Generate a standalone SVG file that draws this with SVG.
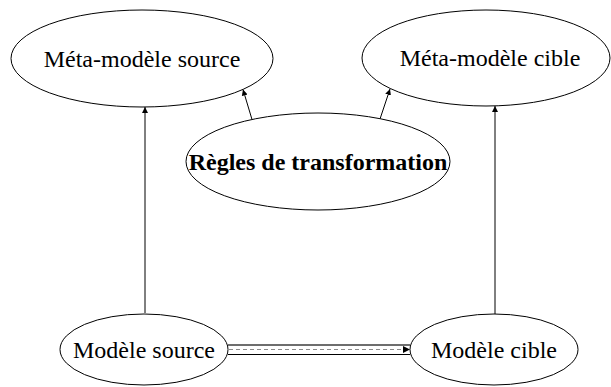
<svg xmlns="http://www.w3.org/2000/svg" width="611" height="387" viewBox="0 0 611 387">
  <style>
    .node ellipse { fill: #fff; stroke: #000; stroke-width: 1; }
    .node text { font-family: "Liberation Serif", "Times New Roman", serif; font-size: 24px; fill: #000; text-anchor: middle; }
    .node text.bold { font-weight: bold; }
    .edge { fill: none; stroke: #000; stroke-width: 1; }
    .rail-top { fill: none; stroke: #6e6e6e; stroke-width: 2; }
    .rail-bottom { fill: none; stroke: #000; stroke-width: 1; }
    .rail-dash { fill: none; stroke: #8a8a8a; stroke-width: 1; stroke-dasharray: 4 3; }
  </style>
  <defs>
    <marker id="arrow" viewBox="0 0 10 10" refX="10" refY="5" markerWidth="6" markerHeight="7" markerUnits="userSpaceOnUse" orient="auto">
      <path d="M0,0 L10,5 L0,10 Z" fill="#000"/>
    </marker>
    <marker id="arrow-small" viewBox="0 0 10 10" refX="10" refY="5" markerWidth="8" markerHeight="7" markerUnits="userSpaceOnUse" orient="auto">
      <path d="M0,0 L10,5 L0,10 Z" fill="#000"/>
    </marker>
  </defs>
  <rect width="611" height="387" fill="#fff"/>

  <g id="connectors">
    <line class="edge" x1="145" y1="313" x2="145" y2="107" marker-end="url(#arrow)"/>
    <line class="edge" x1="495" y1="314" x2="495" y2="106" marker-end="url(#arrow)"/>
    <line class="edge" x1="252" y1="119.5" x2="243" y2="89.5" marker-end="url(#arrow)"/>
    <line class="edge" x1="380" y1="119" x2="390" y2="89" marker-end="url(#arrow)"/>
    <g id="transformation-link">
      <line class="rail-top" x1="228" y1="345" x2="410" y2="345"/>
      <line class="rail-bottom" x1="228" y1="354.5" x2="410" y2="354.5"/>
      <line class="rail-dash" x1="229" y1="349.5" x2="410" y2="349.5" marker-end="url(#arrow-small)"/>
    </g>
  </g>

  <g id="meta-source" class="node">
    <ellipse cx="142" cy="58.5" rx="131" ry="48.5"/>
    <text x="142" y="66.5">Méta-modèle source</text>
  </g>
  <g id="meta-cible" class="node">
    <ellipse cx="486" cy="58" rx="124" ry="48"/>
    <text x="490" y="66">Méta-modèle cible</text>
  </g>
  <g id="regles" class="node">
    <ellipse cx="318" cy="161.5" rx="132" ry="48.5"/>
    <text class="bold" x="318" y="169.5">Règles de transformation</text>
  </g>
  <g id="modele-source" class="node">
    <ellipse cx="144" cy="349.5" rx="84" ry="35.5"/>
    <text x="144" y="357.5">Modèle source</text>
  </g>
  <g id="modele-cible" class="node">
    <ellipse cx="494" cy="349.5" rx="84" ry="35.5"/>
    <text x="494" y="357.5">Modèle cible</text>
  </g>
</svg>
